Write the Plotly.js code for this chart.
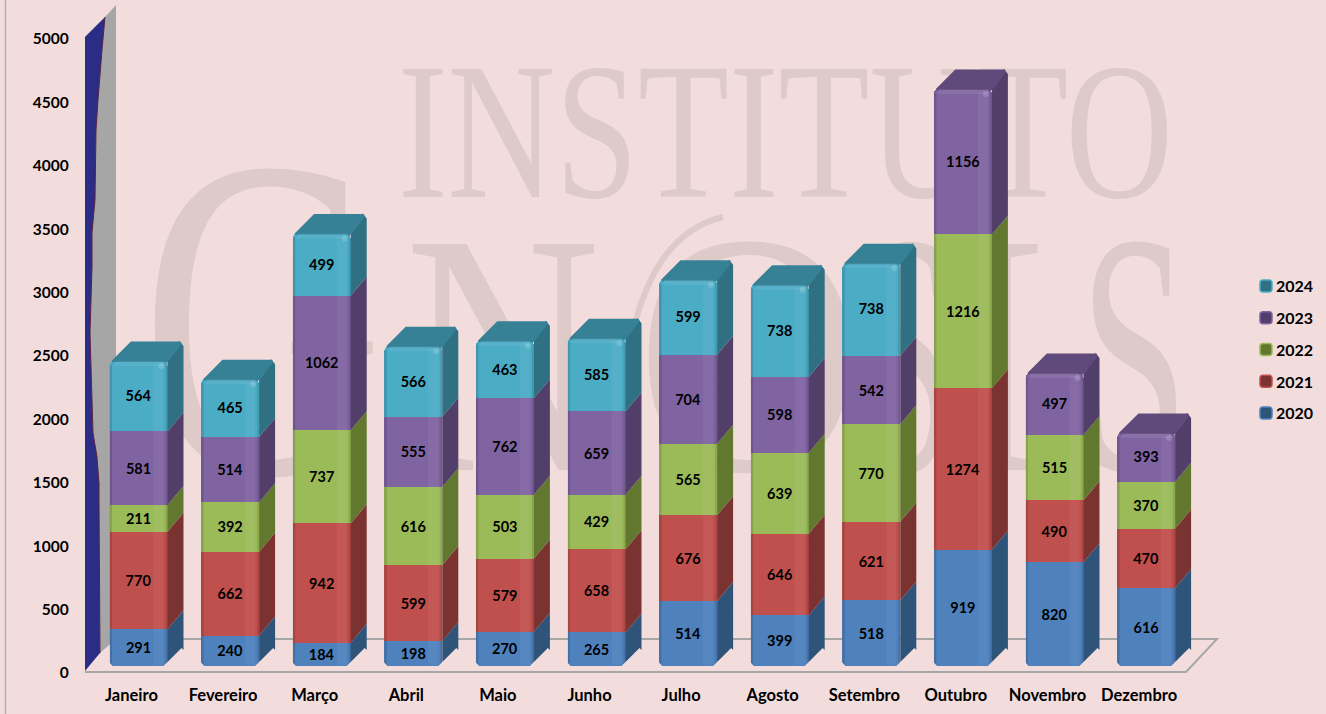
<!DOCTYPE html>
<html><head><meta charset="utf-8">
<script src="https://cdn.plot.ly/plotly-3.0.1.min.js"></script>
<style>html,body{margin:0;padding:0;background:#F2DDDC;overflow:hidden}#c{width:1326px;height:714px}</style>
</head><body><div id="c"></div>
<script>
const months = ["Janeiro","Fevereiro","Março","Abril","Maio","Junho","Julho","Agosto","Setembro","Outubro","Novembro","Dezembro"];
const v2020 = [291,240,184,198,270,265,514,399,518,919,820,616];
const v2021 = [770,662,942,599,579,658,676,646,621,1274,490,470];
const v2022 = [211,392,737,616,503,429,565,639,770,1216,515,370];
const v2023 = [581,514,1062,555,762,659,704,598,542,1156,497,393];
const v2024 = [564,465,499,566,463,585,599,738,738,null,null,null];
const seriesNames = ["2020","2021","2022","2023","2024"];
const seriesValues = [v2020,v2021,v2022,v2023,v2024];
const frontColors = ["#4F81BD","#C0504D","#9BBB59","#8064A2","#4BACC6"];
const sideColors  = ["#2F5479","#7A3331","#62782F","#523F69","#2F7082"];
const topColors   = ["#3A6391","#8F3C39","#738C3F","#604A7B","#378196"];
const yTicks = [0,500,1000,1500,2000,2500,3000,3500,4000,4500,5000];

const W=1326,H=714;
const PITCH=91.6, PXV=0.1266;
const BARW=58, DX=16, DY=19, TOPL=20;
const plotL=92.7, plotR=plotL+12*PITCH, baseY=666, topY=baseY-5000*PXV;
const BG='#F2DDDC';
const xf=p=>p/W, yf=p=>(H-p)/H;
const X=(i,px)=>i+px/PITCH;
const Y=(v,px)=>v-px/PXV;
const HB=BARW/2;

const indices=months.map((_,i)=>i);
const totals=indices.map(i=>seriesValues.reduce((a,s)=>a+(s[i]||0),0));

const traces=[];
seriesNames.forEach((n,k)=>{
  traces.push({type:'bar',name:n,legendgroup:n,legendrank:100-k,x:indices,y:seriesValues[k],width:BARW/PITCH,
    marker:{color:frontColors[k],line:{width:0},cornerradius:6},
    text:seriesValues[k].map(v=>v==null?'':String(v)),textposition:'inside',insidetextanchor:'middle',
    textangle:0,constraintext:'none',insidetextfont:{family:'Lato',size:14.5,color:'#000',weight:700},
    hoverinfo:'y+name'});
});
function poly(xs,ys,fill,lw){
  return {type:'scatter',mode:'lines',x:xs,y:ys,fill:'toself',fillcolor:fill,
    line:{color:fill,width:lw||0},showlegend:false,hoverinfo:'skip'};
}
seriesNames.forEach((n,k)=>{
  const xs=[],ys=[];
  indices.forEach(i=>{
    const v=seriesValues[k][i]; if(v==null) return;
    const b=seriesValues.slice(0,k).reduce((a,s)=>a+(s[i]||0),0), t=b+v;
    const isTop=t===totals[i];
    const bottomPts=k===0
      ? [[X(i,HB),Y(b,-4)],[X(i,HB+DX-2),Y(b,-DY+1)],[X(i,HB+DX),Y(b,-DY+3)]]
      : [[X(i,HB),Y(b,0)],[X(i,HB+DX),Y(b,-DY)]];
    const topPts=isTop
      ? [[X(i,HB+DX),Y(t,-DY+5)],[X(i,HB+DX-4),Y(t,-DY)],[X(i,HB),Y(t,0)]]
      : [[X(i,HB+DX),Y(t,-DY)],[X(i,HB),Y(t,0)]];
    bottomPts.concat(topPts).forEach(p=>{xs.push(p[0]);ys.push(p[1]);});
    xs.push(null);ys.push(null);
  });
  traces.push(poly(xs,ys,sideColors[k]));
});
seriesNames.forEach((n,k)=>{
  const xs=[],ys=[];
  indices.forEach(i=>{
    const v=seriesValues[k][i]; if(v==null) return;
    const b=seriesValues.slice(0,k).reduce((a,s)=>a+(s[i]||0),0), t=b+v;
    if(t!==totals[i]) return;
    [[X(i,-HB+3),Y(t,2)],[X(i,-HB+TOPL+2),Y(t,-DY+2)],[X(i,HB+DX-3),Y(t,-DY+2)],[X(i,HB),Y(t,0)],[X(i,HB-3),Y(t,2)]]
      .forEach(p=>{xs.push(p[0]);ys.push(p[1]);});
    xs.push(null);ys.push(null);
  });
  if(xs.length) traces.push(poly(xs,ys,topColors[k],3));
});
(function(){
  const lx=[],ly=[],rx=[],ry=[],bx=[],by=[],tx=[],ty=[],cx=[],cy=[],hx=[],hy=[];
  indices.forEach(i=>{
    const t=totals[i];
    lx.push(X(i,-HB),X(i,-HB+2.5),X(i,-HB+2.5),X(i,-HB),null); ly.push(Y(0,-1),Y(0,-1),Y(t,5),Y(t,5),null);
    rx.push(X(i,HB-2),X(i,HB),X(i,HB),X(i,HB-2),null); ry.push(Y(0,-1),Y(0,-1),Y(t,5),Y(t,5),null);
    bx.push(X(i,HB-14),X(i,HB-4),X(i,HB-4),X(i,HB-14),null); by.push(Y(0,-1),Y(0,-1),Y(t,4),Y(t,4),null);
    tx.push(X(i,-HB+4),X(i,HB-4),X(i,HB-4),X(i,-HB+4),null); ty.push(Y(t,1),Y(t,1),Y(t,6),Y(t,6),null);
    cx.push(X(i,-HB-0.5),X(i,-HB+4),X(i,-HB-0.5),null,X(i,HB-5),X(i,HB+0.5),X(i,HB+0.5),null);
    cy.push(Y(0,-4),Y(0,1),Y(0,1),null,Y(0,1),Y(0,-4.5),Y(0,1),null);
    hx.push(X(i,HB-6)); hy.push(Y(t,6));
  });
  traces.push(poly(bx,by,'rgba(255,255,255,0.05)'));
  traces.push(poly(lx,ly,'rgba(0,0,0,0.13)'));
  traces.push(poly(rx,ry,'rgba(0,0,0,0.10)'));
  traces.push(poly(tx,ty,'rgba(255,255,255,0.07)'));
  traces.push(poly(cx,cy,BG));
  traces.push({type:'scatter',mode:'markers',x:hx,y:hy,marker:{size:6,color:'rgba(255,255,255,0.16)'},showlegend:false,hoverinfo:'skip'});
})();
traces.push({type:'scatter',mode:'none',x:months,y:totals,xaxis:'x2',yaxis:'y2',showlegend:false,hoverinfo:'skip'});

const wmColor='#DECAC9';
const watermark=[
 {t:'INSTITUTO',left:398,base:197,width:775,size:195},
 {t:'G',left:141,base:473,width:242,size:460},
 {t:'N',left:405,base:470,width:195,size:345},
 {t:'O',left:636,base:470,width:226,size:345},
 {t:'S',left:860,base:470,width:95,size:345},
 {t:'I',left:942,base:470,width:107,size:345},
 {t:'S',left:1080,base:470,width:108,size:345}
];
const path=pts=>'M'+pts.map(p=>xf(p[0]).toFixed(5)+','+yf(p[1]).toFixed(5)).join('L')+'Z';
const openPath=pts=>'M'+pts.map(p=>xf(p[0]).toFixed(5)+','+yf(p[1]).toFixed(5)).join('L');
const wiggle=[[105,17],[102,50],[98,100],[96,130],[95,200],[92,233],[92,267],[91,300],[90,333],[91,367],[92,400],[93,433],[97,457],[99,483],[99,500],[100,653]];
const shapes=[];
const P={type:'path',xref:'paper',yref:'paper',layer:'below'};
watermark.forEach(w=>shapes.push({type:'rect',xref:'paper',yref:'paper',layer:'below',x0:xf(w.left),x1:xf(w.left+w.width),y0:yf(w.base),y1:yf(w.base-50),
  line:{width:0},fillcolor:'rgba(0,0,0,0)',label:{text:w.t,font:{family:'Liberation Serif',size:w.size,color:wmColor}}}));
shapes.push(Object.assign({},P,{path:`M${xf(723)},${yf(217)}Q${xf(660)},${yf(232)} ${xf(636)},${yf(320)}`,line:{color:wmColor,width:6}}));
shapes.push({type:'line',xref:'paper',yref:'paper',layer:'below',x0:xf(5.5),x1:xf(5.5),y0:0,y1:1,line:{color:'#B5B0B0',width:1.5}});
shapes.push(Object.assign({},P,{path:openPath([[85,672],[1186,672],[1217,639],[118,639]]),line:{color:'#A6A6A6',width:2}}));
shapes.push(Object.assign({},P,{path:path([[105,17],[116,5],[116,639],[100,653]].concat(wiggle.slice().reverse().slice(1))),fillcolor:'#A6A6A6',line:{width:0}}));
shapes.push(Object.assign({},P,{path:path([[85,671],[85,37]].concat(wiggle)),fillcolor:'#2B2C86',line:{width:0}}));
shapes.push(Object.assign({},P,{path:openPath(wiggle),line:{color:'#5A2146',width:1}}));

const layout={
  width:W,height:H,margin:{l:0,r:0,t:0,b:0,pad:0},autosize:false,
  paper_bgcolor:BG,plot_bgcolor:'rgba(0,0,0,0)',barmode:'stack',
  xaxis:{domain:[xf(plotL),xf(plotR)],range:[-0.5,11.5],visible:false,fixedrange:true},
  yaxis:{domain:[yf(baseY),yf(topY)],range:[0,5000],visible:false,fixedrange:true},
  xaxis2:{domain:[xf(plotL-7),xf(plotR-7)],anchor:'y2',type:'category',categoryorder:'array',categoryarray:months,range:[-0.5,11.5],
    showgrid:false,showline:false,zeroline:false,ticks:'',ticklabelstandoff:10,tickfont:{family:'Lato',size:16.5,color:'#000',weight:700},tickangle:0,automargin:false,fixedrange:true},
  yaxis2:{domain:[yf(673),yf(39)],anchor:'x2',range:[0,5000],tickvals:yTicks,ticktext:yTicks.map(String),
    showgrid:false,showline:false,zeroline:false,ticks:'',ticklabelstandoff:16,tickfont:{family:'Lato',size:15.5,color:'#000',weight:700},automargin:false,fixedrange:true},
  legend:{x:1236/W,xanchor:'left',y:yf(269),yanchor:'top',traceorder:'grouped',tracegroupgap:8,
    font:{family:'Lato',size:16,color:'#000',weight:700},bgcolor:'rgba(0,0,0,0)',borderwidth:0,itemclick:false,itemdoubleclick:false},
  shapes:shapes,showlegend:true
};
Plotly.newPlot('c',traces,layout,{displayModeBar:false,staticPlot:true}).then(gd=>{
  const big=[...gd.querySelectorAll('text')].filter(t=>parseFloat(t.style.fontSize)>100);
  big.forEach((t,i)=>{
    const w=watermark[i]; if(!w) return;
    t.removeAttribute('transform');
    t.setAttribute('x',w.left);t.setAttribute('y',w.base);
    t.setAttribute('text-anchor','start');t.style.textAnchor='start';
    t.setAttribute('textLength',w.width);t.setAttribute('lengthAdjust','spacingAndGlyphs');
  });
  gd.querySelectorAll('.legend .traces').forEach(tr=>{
    const k=seriesNames.indexOf(tr.textContent.trim());
    const sym=tr.querySelector('.legendsymbols'); if(sym) sym.setAttribute('transform','translate(10,0)');
    const p=tr.querySelector('.legendpoints path');
    if(p&&k>=0){p.style.fill=sideColors[k];p.style.stroke=frontColors[k];p.style.strokeWidth='1.5px';}
  });
});
</script></body></html>
